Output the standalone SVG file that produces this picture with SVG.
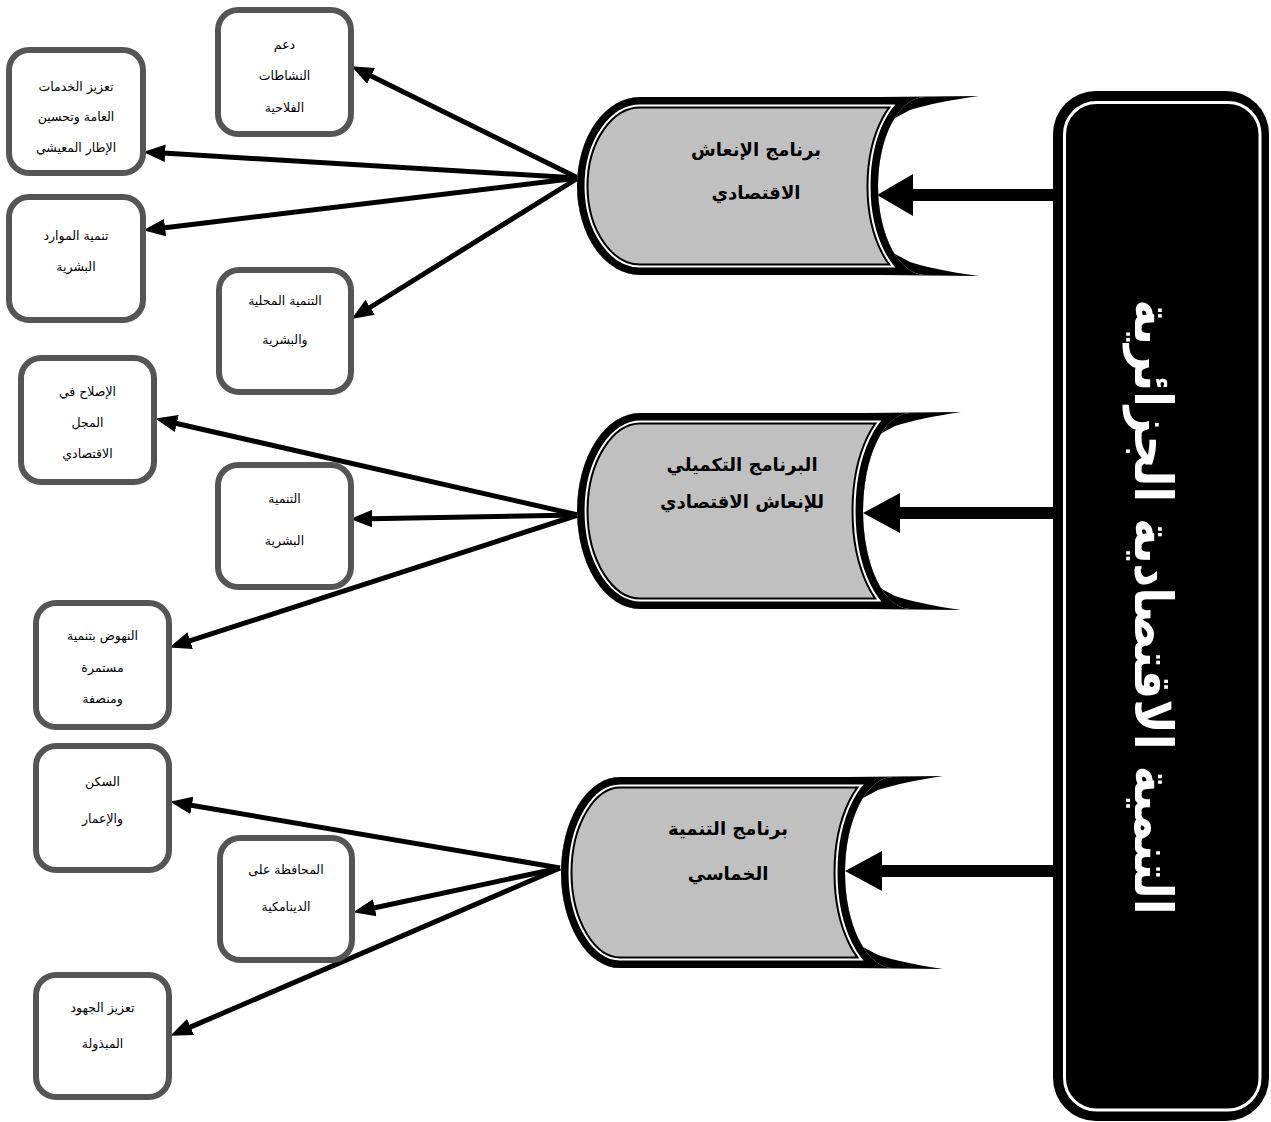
<svg xmlns="http://www.w3.org/2000/svg" xmlns:xlink="http://www.w3.org/1999/xlink" width="1271" height="1122" viewBox="0 0 1271 1122">
  <style>
    .box { fill: #ffffff; stroke: #555555; stroke-width: 6; }
    .lbl { font-family: "DejaVu Sans", sans-serif; font-size: 12.5px; fill: #000000; text-anchor: middle; }
    .prog { font-family: "DejaVu Sans", sans-serif; font-size: 18px; font-weight: bold; fill: #000000; text-anchor: middle; }
    .title { font-family: "DejaVu Sans", sans-serif; font-size: 52px; font-weight: bold; fill: #ffffff; text-anchor: middle; }
    .link { stroke: #000000; stroke-width: 5; fill: none; marker-end: url(#head); }
    .feed { fill: #000000; }
    .tail { fill: #000000; }
    .fill { fill: #c0c0c0; }
    .b1 { fill: none; stroke: #000000; stroke-width: 23; }
    .b2 { fill: none; stroke: #ffffff; stroke-width: 19; }
    .b3 { fill: none; stroke: #000000; stroke-width: 15; }
  </style>
  <defs>
    <marker id="head" markerUnits="userSpaceOnUse" markerWidth="22" markerHeight="18" viewBox="0 0 20 16" refX="2" refY="8" orient="auto">
      <path d="M0,0 L20,8 L0,16 Z" fill="#000000"/>
    </marker>
    <!-- stored-data outlines for the three programmes -->
    <path id="s1" d="M640,97 L925,97 A47,89 0 0 0 925,275 L640,275 A63,89 0 0 1 640,97 Z"/>
    <path id="s2" d="M640,413 L910,413 A47,98 0 0 0 910,609 L640,609 A63,98 0 0 1 640,413 Z"/>
    <path id="s3" d="M620,777 L893,777 A48,95.5 0 0 0 893,968 L620,968 A59,95.5 0 0 1 620,777 Z"/>
    <clipPath id="c1"><use xlink:href="#s1"/></clipPath>
    <clipPath id="c2"><use xlink:href="#s2"/></clipPath>
    <clipPath id="c3"><use xlink:href="#s3"/></clipPath>
  </defs>

  <rect width="1271" height="1122" fill="#ffffff"/>

  <!-- connectors -->
  <g id="connectors">
    <!-- from the main box to each programme -->
    <path class="feed" d="M1058,189 L913,189 L913,174 L877,195 L913,216 L913,201 L1058,201 Z"/>
    <path class="feed" d="M1058,507 L900,507 L900,493 L863,513 L900,533 L900,519 L1058,519 Z"/>
    <path class="feed" d="M1058,865 L882,865 L882,851 L845,871 L882,891 L882,877 L1058,877 Z"/>
    <!-- programme 1 -->
    <line class="link" x1="578" y1="178" x2="369.1" y2="75.0"/>
    <line class="link" x1="578" y1="178" x2="163.0" y2="153.1"/>
    <line class="link" x1="578" y1="178" x2="162.9" y2="227.9"/>
    <line class="link" x1="578" y1="178" x2="368.3" y2="308.5"/>
    <!-- programme 2 -->
    <line class="link" x1="578" y1="515" x2="174.6" y2="423.0"/>
    <line class="link" x1="578" y1="515" x2="370.0" y2="518.7"/>
    <line class="link" x1="578" y1="515" x2="188.1" y2="641.4"/>
    <!-- programme 3 -->
    <line class="link" x1="560" y1="868" x2="189.7" y2="805.0"/>
    <line class="link" x1="560" y1="868" x2="372.6" y2="908.2"/>
    <line class="link" x1="560" y1="868" x2="188.5" y2="1027.9"/>
  </g>

  <!-- main box -->
  <g id="main">
    <rect x="1053" y="91" width="216" height="1030" rx="43" fill="#000000"/>
    <rect x="1064.5" y="102.5" width="195.5" height="1007.5" rx="32" fill="none" stroke="#ffffff" stroke-width="3"/>
    <text class="title" transform="translate(1135,607) rotate(90)" textLength="615" lengthAdjust="spacingAndGlyphs">التنمية الاقتصادية الجزائرية</text>
  </g>

  <!-- programme 1 -->
  <g id="prog1">
    <path class="tail" d="M880,97 L979,96 Q935,102 910,110 L895,118 L880,118 Z"/>
    <path class="tail" d="M880,275 L979,276 Q935,270 910,262 L895,254 L880,254 Z"/>
    <g clip-path="url(#c1)">
      <use xlink:href="#s1" class="fill"/>
      <use xlink:href="#s1" class="b1"/>
      <use xlink:href="#s1" class="b2"/>
      <use xlink:href="#s1" class="b3"/>
    </g>
    <text class="prog" x="756" y="156">برنامج الإنعاش</text>
    <text class="prog" x="756" y="199">الاقتصادي</text>
  </g>

  <!-- programme 2 -->
  <g id="prog2">
    <path class="tail" d="M865,413 L961,412 Q920,418 895,426 L880,434 L865,434 Z"/>
    <path class="tail" d="M865,609 L961,610 Q920,604 895,596 L880,588 L865,588 Z"/>
    <g clip-path="url(#c2)">
      <use xlink:href="#s2" class="fill"/>
      <use xlink:href="#s2" class="b1"/>
      <use xlink:href="#s2" class="b2"/>
      <use xlink:href="#s2" class="b3"/>
    </g>
    <text class="prog" x="742" y="471">البرنامج التكميلي</text>
    <text class="prog" x="742" y="508">للإنعاش الاقتصادي</text>
  </g>

  <!-- programme 3 -->
  <g id="prog3">
    <path class="tail" d="M848,777 L943,776 Q903,782 878,790 L863,798 L848,798 Z"/>
    <path class="tail" d="M848,968 L943,969 Q903,963 878,955 L863,947 L848,947 Z"/>
    <g clip-path="url(#c3)">
      <use xlink:href="#s3" class="fill"/>
      <use xlink:href="#s3" class="b1"/>
      <use xlink:href="#s3" class="b2"/>
      <use xlink:href="#s3" class="b3"/>
    </g>
    <text class="prog" x="728" y="835">برنامج التنمية</text>
    <text class="prog" x="728" y="880">الخماسي</text>
  </g>

  <!-- outcome boxes -->
  <g id="n1">
    <rect class="box" x="218" y="10" width="133" height="124" rx="20"/>
    <text class="lbl" x="284.5" y="49">دعم</text>
    <text class="lbl" x="284.5" y="80">النشاطات</text>
    <text class="lbl" x="284.5" y="112">الفلاحية</text>
  </g>
  <g id="n2">
    <rect class="box" x="9" y="50" width="134" height="123" rx="20"/>
    <text class="lbl" x="76" y="91">تعزيز الخدمات</text>
    <text class="lbl" x="76" y="121">العامة وتحسين</text>
    <text class="lbl" x="76" y="152">الإطار المعيشي</text>
  </g>
  <g id="n3">
    <rect class="box" x="9" y="197" width="134" height="123" rx="20"/>
    <text class="lbl" x="76" y="240">تنمية الموارد</text>
    <text class="lbl" x="76" y="271">البشرية</text>
  </g>
  <g id="n4">
    <rect class="box" x="219" y="270" width="132" height="122" rx="20"/>
    <text class="lbl" x="285" y="305">التنمية المحلية</text>
    <text class="lbl" x="285" y="344">والبشرية</text>
  </g>
  <g id="n5">
    <rect class="box" x="21" y="358" width="133" height="124" rx="20"/>
    <text class="lbl" x="87.5" y="396">الإصلاح في</text>
    <text class="lbl" x="87.5" y="427">المجل</text>
    <text class="lbl" x="87.5" y="458">الاقتصادي</text>
  </g>
  <g id="n6">
    <rect class="box" x="218" y="465" width="133" height="122" rx="20"/>
    <text class="lbl" x="284.5" y="503">التنمية</text>
    <text class="lbl" x="284.5" y="545">البشرية</text>
  </g>
  <g id="n7">
    <rect class="box" x="36" y="603" width="133" height="124" rx="20"/>
    <text class="lbl" x="102.5" y="640">النهوض بتنمية</text>
    <text class="lbl" x="102.5" y="672">مستمرة</text>
    <text class="lbl" x="102.5" y="703">ومنصفة</text>
  </g>
  <g id="n8">
    <rect class="box" x="36" y="746" width="133" height="124" rx="20"/>
    <text class="lbl" x="102.5" y="786">السكن</text>
    <text class="lbl" x="102.5" y="823">والإعمار</text>
  </g>
  <g id="n9">
    <rect class="box" x="220" y="838" width="132" height="122" rx="20"/>
    <text class="lbl" x="286" y="874">المحافظة على</text>
    <text class="lbl" x="286" y="911">الدينامكية</text>
  </g>
  <g id="n10">
    <rect class="box" x="36" y="975" width="133" height="122" rx="20"/>
    <text class="lbl" x="102.5" y="1012">تعزيز الجهود</text>
    <text class="lbl" x="102.5" y="1048">المبذولة</text>
  </g>
</svg>
